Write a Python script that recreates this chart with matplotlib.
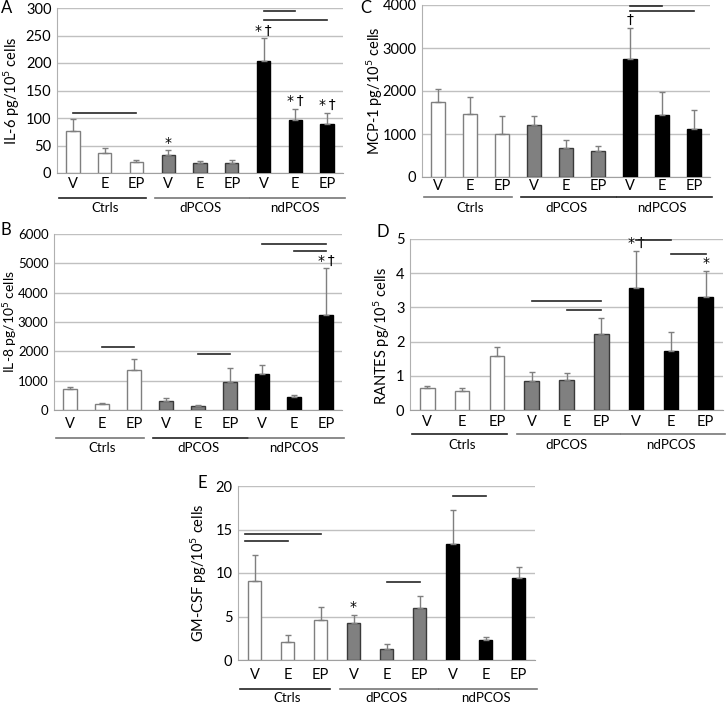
import numpy as np
import matplotlib.pyplot as plt

plt.rcParams['font.family'] = ['Lato', 'DejaVu Sans']
plt.rcParams['mathtext.default'] = 'regular'

# Data
groups = ['Ctrls', 'dPCOS', 'ndPCOS']
treatments = ['V', 'E', 'EP']

il6_mean = [76, 36, 20, 33, 19, 18, 204, 96, 89]
il6_err = [22, 10, 4, 8, 3, 6, 41, 21, 21]
il6_marks = ['', '', '', '*', '', '', '*\u2009†', '*\u2009†', '*\u2009†']
il6_lines = [(0, 2, 109), (6, 7, 295), (6, 8, 279)]

il8_mean = [720, 210, 1380, 310, 120, 970, 1240, 430, 3240]
il8_err = [60, 40, 350, 90, 40, 460, 290, 80, 1590]
il8_marks = ['', '', '', '', '', '', '', '', '*\u2009†']
il8_lines = [(1, 2, 2164), (4, 5, 1913), (6, 8, 5672), (7, 8, 5410)]

mcp1_mean = [1750, 1460, 1000, 1210, 680, 600, 2740, 1450, 1120]
mcp1_err = [290, 390, 420, 200, 170, 120, 730, 520, 430]
mcp1_marks = ['', '', '', '', '', '', '†', '', '']
mcp1_lines = [(6, 7, 3977), (6, 8, 3860)]

rantes_mean = [0.63, 0.56, 1.58, 0.85, 0.88, 2.22, 3.56, 1.73, 3.31]
rantes_err = [0.07, 0.08, 0.27, 0.25, 0.19, 0.48, 1.09, 0.55, 0.75]
rantes_marks = ['', '', '', '', '', '', '*\u2009†', '', '*']
rantes_lines = [(3, 5, 3.19), (4, 5, 2.92), (6, 7, 4.97), (7, 8, 4.56)]

gmcsf_mean = [9.05, 2.1, 4.6, 4.25, 1.25, 5.95, 13.3, 2.35, 9.45]
gmcsf_err = [3.05, 0.75, 1.45, 0.9, 0.55, 1.45, 3.95, 0.25, 1.2]
gmcsf_marks = ['', '', '', '*', '', '', '', '', '']
gmcsf_lines = [(-0.3, 2, 14.53), (-0.3, 1, 13.65), (4, 5, 8.99), (6, 7, 18.85)]

W, H = 727, 704
fig = plt.figure(figsize=(W / 100, H / 100), dpi=100)

fills = ['white'] * 3 + ['#808080'] * 3 + ['black'] * 3
edges = ['#7f7f7f'] * 3 + ['#3a3a3a'] * 3 + ['black'] * 3


def panel(letter, box, mean, err, marks, lines, ymax, ystep, ylabel,
          offs, gcolors, letter_xy, ylab_x, ylab_y=0.5, ytick_size=10.5,
          ylab_size=10.5):
    l, t, r, b = box
    hpx = b - t
    ax = fig.add_axes([l / W, 1 - b / H, (r - l) / W, hpx / H])
    x = np.arange(9)
    ax.bar(x, mean, width=0.42, color=fills, edgecolor=edges, linewidth=1, zorder=3)
    ax.errorbar(x, mean, yerr=[np.zeros(9), err], fmt='none', ecolor='#7f7f7f',
                elinewidth=1, capsize=2.5, capthick=1, zorder=4)
    ax.set_xlim(-0.5, 8.5)
    ax.set_ylim(0, ymax)
    ax.set_yticks(np.arange(0, ymax + ystep / 2, ystep))
    ax.yaxis.grid(True, color='#c0c0c0', lw=1)
    ax.set_axisbelow(True)
    for s in ['top', 'right']:
        ax.spines[s].set_visible(False)
    ax.spines['left'].set_color('#b0b0b0')
    ax.spines['bottom'].set_color('#a0a0a0')
    ax.set_xticks(x, treatments * 3)
    ax.tick_params(axis='both', length=0, labelsize=10.5)
    ax.tick_params(axis='x', pad=(offs[0] - 6) * 0.72)
    ax.tick_params(axis='y', pad=4, labelsize=ytick_size)
    ax.set_ylabel(ylabel, fontsize=ylab_size)
    ax.yaxis.set_label_coords((ylab_x - l) / (r - l), ylab_y)

    tr = ax.get_xaxis_transform()
    for g, name in enumerate(groups):
        x0 = 3 * g - 0.42 if g else -0.45
        x1 = 3 * g + 2.55 if g else 2.3
        ax.plot([x0, x1], [-offs[1] / hpx] * 2, color=gcolors[g], lw=1.2,
                transform=tr, clip_on=False)
        ax.text(3 * g + 1, -offs[2] / hpx, name, transform=tr, ha='center',
                va='center', fontsize=9.5)

    for i in x:
        if marks[i]:
            ax.text(i, mean[i] + err[i] + ymax * 0.004, marks[i], ha='center',
                    va='bottom', fontsize=10, family='DejaVu Sans')
    for x0, x1, y in lines:
        ax.plot([x0, x1], [y, y], color='#262626', lw=1.2, clip_on=False, zorder=5)

    fig.text(letter_xy[0] / W, 1 - letter_xy[1] / H, letter, ha='center',
             va='center', fontsize=12)
    return ax


panel('A', (57, 8, 343, 173), il6_mean, il6_err, il6_marks, il6_lines, 300, 50,
      'IL-6 pg/10$^5$ cells', (10, 25, 35), ['#222222', '#777777', '#777777'],
      (7, 8), 22)
panel('C', (422, 5, 710, 177), mcp1_mean, mcp1_err, mcp1_marks, mcp1_lines, 4000, 1000,
      'MCP-1 pg/10$^5$ cells', (8, 20, 31), ['#777777', '#222222', '#222222'],
      (366, 8), 385)
panel('B', (54, 234, 342, 410), il8_mean, il8_err, il8_marks, il8_lines, 6000, 1000,
      'IL-8 pg/10$^5$ cells', (13, 28, 38), ['#777777', '#222222', '#777777'],
      (6, 230), 19, ytick_size=9.5, ylab_size=10)
panel('D', (410, 239, 723, 410), rantes_mean, rantes_err, rantes_marks, rantes_lines, 5, 1,
      'RANTES pg/10$^5$ cells', (11, 24, 35), ['#222222', '#777777', '#777777'],
      (383, 232), 392, 0.43)
panel('E', (238, 486, 535, 660), gmcsf_mean, gmcsf_err, gmcsf_marks, gmcsf_lines, 20, 5,
      'GM-CSF pg/10$^5$ cells', (14, 29, 38), ['#222222', '#777777', '#777777'],
      (202, 483), 209)

fig.savefig('out.png', dpi=100)
